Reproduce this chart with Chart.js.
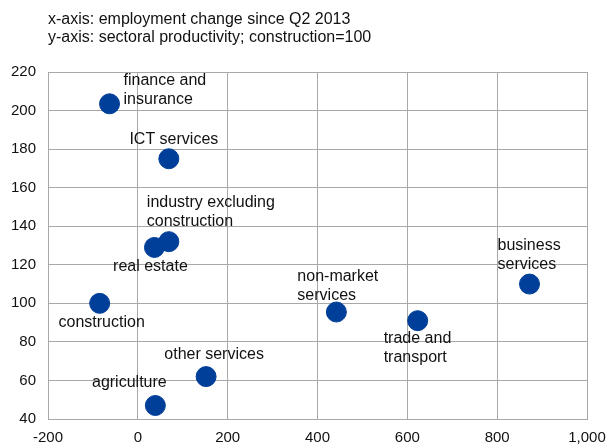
<!DOCTYPE html>
<html>
<head>
<meta charset="utf-8">
<script src="https://cdn.jsdelivr.net/npm/chart.js@4"></script>
<style>
  html, body { margin: 0; padding: 0; background: #fff; }
  #wrap { width: 611px; height: 446px; }
</style>
</head>
<body>
<div id="wrap"><canvas id="myChart" width="611" height="446"></canvas></div>
<script>
const sectors = ['finance and insurance', 'ICT services', 'industry excluding construction',
  'real estate', 'construction', 'other services', 'agriculture',
  'non-market services', 'trade and transport', 'business services'];
const employmentChange = [-63, 69, 69, 37, -85, 152, 39, 442, 623, 872];
const productivity = [203.5, 175, 132, 129, 100, 62, 47, 95.5, 91, 110];
const titleLines = ['x-axis: employment change since Q2 2013',
  'y-axis: sectoral productivity; construction=100'];

// how each label sits relative to its point (pixels)
const labelStyle = [
  { lines: ['finance and', 'insurance'], align: 'left', dx: 14, dy: -23 },
  { lines: ['ICT services'], align: 'center', dx: 5, dy: -19 },
  { lines: ['industry excluding', 'construction'], align: 'left', dx: -22, dy: -39 },
  { lines: ['real estate'], align: 'center', dx: -4, dy: 19.5 },
  { lines: ['construction'], align: 'center', dx: 2, dy: 19 },
  { lines: ['other services'], align: 'center', dx: 8, dy: -21.5 },
  { lines: ['agriculture'], align: 'center', dx: -26, dy: -23 },
  { lines: ['non-market', 'services'], align: 'left', dx: -39, dy: -35 },
  { lines: ['trade and', 'transport'], align: 'left', dx: -34, dy: 18 },
  { lines: ['business', 'services'], align: 'left', dx: -32, dy: -38 },
];

const FONT = 'Liberation Sans, Arial, sans-serif';
const gridColor = '#a8a8a8';
const textColor = '#111';

const labelsPlugin = {
  id: 'pointLabels',
  afterDatasetsDraw(chart) {
    const ctx = chart.ctx;
    const meta = chart.getDatasetMeta(0);
    ctx.save();
    ctx.font = '16px ' + FONT;
    ctx.fillStyle = textColor;
    ctx.textBaseline = 'middle';
    meta.data.forEach((pt, i) => {
      const s = labelStyle[i];
      ctx.textAlign = s.align;
      s.lines.forEach((line, j) => {
        ctx.fillText(line, pt.x + s.dx, pt.y + s.dy + j * 19);
      });
    });
    // header text
    ctx.textAlign = 'left';
    titleLines.forEach((line, j) => {
      ctx.fillText(line, 48, 20 + j * 18);
    });
    ctx.restore();
  }
};

new Chart(document.getElementById('myChart').getContext('2d'), {
  type: 'scatter',
  data: {
    labels: sectors,
    datasets: [{
      label: 'sectors',
      data: employmentChange.map((x, i) => ({ x: x, y: productivity[i] })),
      backgroundColor: '#003f99',
      borderColor: '#003f99',
      pointRadius: 10,
      pointHoverRadius: 10,
    }],
  },
  options: {
    responsive: false,
    animation: false,
    layout: { padding: { left: 0, right: 24, top: 72, bottom: 0 } },
    plugins: {
      legend: { display: false },
      tooltip: { enabled: false },
    },
    scales: {
      x: {
        type: 'linear',
        min: -200,
        max: 1000,
        ticks: {
          stepSize: 200,
          color: textColor,
          font: { family: FONT, size: 15, lineHeight: 1.8 },
          padding: 5,
          maxRotation: 0,
          callback: (v) => v.toLocaleString('en-US'),
        },
        grid: { color: gridColor, drawTicks: false },
        border: { color: gridColor },
        afterFit: (scale) => { scale.height = 27; },
      },
      y: {
        min: 40,
        max: 220,
        ticks: {
          stepSize: 20,
          color: textColor,
          font: { family: FONT, size: 15 },
          padding: 12,
        },
        grid: { color: gridColor, drawTicks: false },
        border: { color: gridColor },
        afterFit: (scale) => { scale.width = 48; },
      },
    },
  },
  plugins: [labelsPlugin],
});
</script>
</body>
</html>
